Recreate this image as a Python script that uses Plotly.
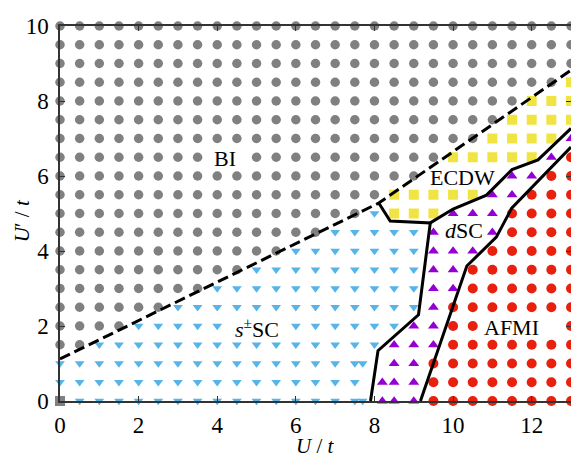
import plotly.graph_objects as go

# ---------------- data ----------------
U_VALUES = [0, 0.5, 1, 1.5, 2, 2.5, 3, 3.5, 4, 4.5, 5, 5.5, 6, 6.5, 7, 7.5,
            8, 8.5, 9, 9.5, 10, 10.5, 11, 11.5, 12, 12.5, 13]
UP_VALUES = [0, 0.5, 1, 1.5, 2, 2.5, 3, 3.5, 4, 4.5, 5, 5.5, 6, 6.5, 7, 7.5,
             8, 8.5, 9, 9.5, 10]

# phase of each grid point, one string per U' row (bottom to top), one char per U column
# G=BI, B=s+-SC, P=dSC, R=AFMI, Y=ECDW, S=origin square, .=no marker
PHASE_ROWS = [
    "SBBBBBBBBBBBBBBB.PPRRRRRRRR",  # 0.0
    "BBBBBBBBBBBBBBBB.PPRRRRRRRR",  # 0.5
    "BBBBBBBBBBBBBBBB.PPRRRRRRRR",  # 1.0
    "GGBBBBBBBBBBBBBBBPPPRRRRRRR",  # 1.5
    "GGGGBBBBB...BBBBBBPPRR....R",  # 2.0
    "GGGGGGBBBBBBBBBBBBBPRRRRRRR",  # 2.5
    "GGGGGGGGBBBBBBBBBBBPPRRRRRR",  # 3.0
    "GGGGGGGGGGBBBBBBBBBPPRRRRRR",  # 3.5
    "GGGGGGGGGGGGBBBBBBBPPPRRRRR",  # 4.0
    "GGGGGGGGGGGGGGBBBBBP..PRRRR",  # 4.5
    "GGGGGGGGGGGGGGGGBYYYPPPRRRR",  # 5.0
    "GGGGGGGGGGGGGGGGGYYYYYPPRRR",  # 5.5
    "GGGGGGGGGGGGGGGGGGG....PPRR",  # 6.0
    "GGGGGGGG..GGGGGGGGGGYYYYYPR",  # 6.5
    "GGGGGGGGGGGGGGGGGGGGGGYYYYP",  # 7.0
    "GGGGGGGGGGGGGGGGGGGGGGGYYYY",  # 7.5
    "GGGGGGGGGGGGGGGGGGGGGGGGYYY",  # 8.0
    "GGGGGGGGGGGGGGGGGGGGGGGGGGY",  # 8.5
    "GGGGGGGGGGGGGGGGGGGGGGGGGGG",  # 9.0
    "GGGGGGGGGGGGGGGGGGGGGGGGGGG",  # 9.5
    "GGGGGGGGGGGGGGGGGGGGGGGGGGG",  # 10.0
]
EXTRA_U = [7.7, 8.2, 8.2, 7.7]
EXTRA_UP = [0.0, 0.0, 0.5, 1.0]
EXTRA_PHASE = ["B", "P", "P", "B"]

# phase boundaries
DASH_U = [0, 8.11, 13]
DASH_UP = [1.12, 5.28, 8.82]
SSC_U = [8.11, 8.4, 9.42, 9.12, 8.09, 7.9]
SSC_UP = [5.28, 4.8, 4.75, 2.3, 1.34, 0]
ECDW_U = [9.42, 10.0, 10.85, 11.5, 12.16, 13]
ECDW_UP = [4.75, 5.12, 5.49, 6.17, 6.43, 7.27]
AFM_U = [9.17, 10.35, 11.1, 11.49, 13]
AFM_UP = [0, 3.6, 4.37, 5.14, 6.77]

X_TICKS = [0, 2, 4, 6, 8, 10, 12]
Y_TICKS = [0, 2, 4, 6, 8, 10]

LABEL_TEXT = ["BI", "ECDW", "<i>d</i>SC", "<i>s</i><sup>±</sup>SC", "AFMI"]
LABEL_U = [4.2, 10.24, 10.29, 5.02, 11.49]
LABEL_UP = [6.46, 5.96, 4.55, 1.95, 1.96]

# ---------------- styles ----------------
STYLE = {
    "G": dict(symbol="circle", color="#808080", size=9.5),
    "B": dict(symbol="triangle-down", color="#56B4E9", size=8.5),
    "P": dict(symbol="triangle-up", color="#9400D3", size=9.5),
    "R": dict(symbol="circle", color="#E8200E", size=10),
    "Y": dict(symbol="square", color="#F0E442", size=10),
    "S": dict(symbol="square", color="#808080", size=10),
}
FONT = "Liberation Serif"

for r in PHASE_ROWS:
    assert len(r) == len(U_VALUES), r
assert len(PHASE_ROWS) == len(UP_VALUES)

pts = {k: ([], []) for k in STYLE}
for up, row in zip(UP_VALUES, PHASE_ROWS):
    for u, c in zip(U_VALUES, row):
        if c in pts:
            pts[c][0].append(u)
            pts[c][1].append(up)
for u, up, c in zip(EXTRA_U, EXTRA_UP, EXTRA_PHASE):
    pts[c][0].append(u)
    pts[c][1].append(up)

fig = go.Figure()
for k, (xs, ys) in pts.items():
    st = STYLE[k]
    fig.add_trace(go.Scatter(
        x=xs, y=ys, mode="markers", cliponaxis=False, showlegend=False,
        marker=dict(symbol=st["symbol"], color=st["color"], size=st["size"],
                    line=dict(width=0)),
        hoverinfo="skip"))

fig.add_trace(go.Scatter(x=DASH_U, y=DASH_UP, mode="lines", showlegend=False,
                         line=dict(color="black", width=3, dash="11px,5px")))
for xs, ys in [(SSC_U, SSC_UP), (ECDW_U, ECDW_UP), (AFM_U, AFM_UP)]:
    fig.add_trace(go.Scatter(x=xs, y=ys, mode="lines", showlegend=False,
                             line=dict(color="black", width=3)))

for t, u, up in zip(LABEL_TEXT, LABEL_U, LABEL_UP):
    fig.add_annotation(x=u, y=up, text=t, showarrow=False,
                       font=dict(family=FONT, size=22, color="black"),
                       xanchor="center", yanchor="middle")

axis_common = dict(
    showgrid=False, zeroline=False, showline=True, linecolor="#333333",
    linewidth=1.5, mirror="ticks", ticks="inside", ticklen=5, tickwidth=1.2,
    tickcolor="#333333", tickfont=dict(family=FONT, size=23, color="black"),
)
fig.update_xaxes(range=[0, 13], tickvals=X_TICKS, ticklabelstandoff=3, **axis_common)
fig.update_yaxes(range=[0, 10], tickvals=Y_TICKS, ticklabelstandoff=5, **axis_common)

fig.add_annotation(xref="paper", yref="paper", x=0.5, y=-0.12,
                   text="<i>U</i> / <i>t</i>", showarrow=False, borderpad=0,
                   font=dict(family=FONT, size=21, color="black"),
                   xanchor="center", yanchor="middle")
fig.add_annotation(xref="paper", yref="paper", x=-0.074, y=0.48,
                   text="<i>U</i>′ / <i>t</i>", showarrow=False, textangle=-90,
                   font=dict(family=FONT, size=21, color="black"),
                   xanchor="center", yanchor="middle")

# the page body has an 8px default margin, so the figure is sized to fit the window
fig.update_layout(
    width=571, height=450,
    margin=dict(l=52, r=6, t=12, b=57),
    plot_bgcolor="white", paper_bgcolor="white",
)
fig.write_html("out.html")
